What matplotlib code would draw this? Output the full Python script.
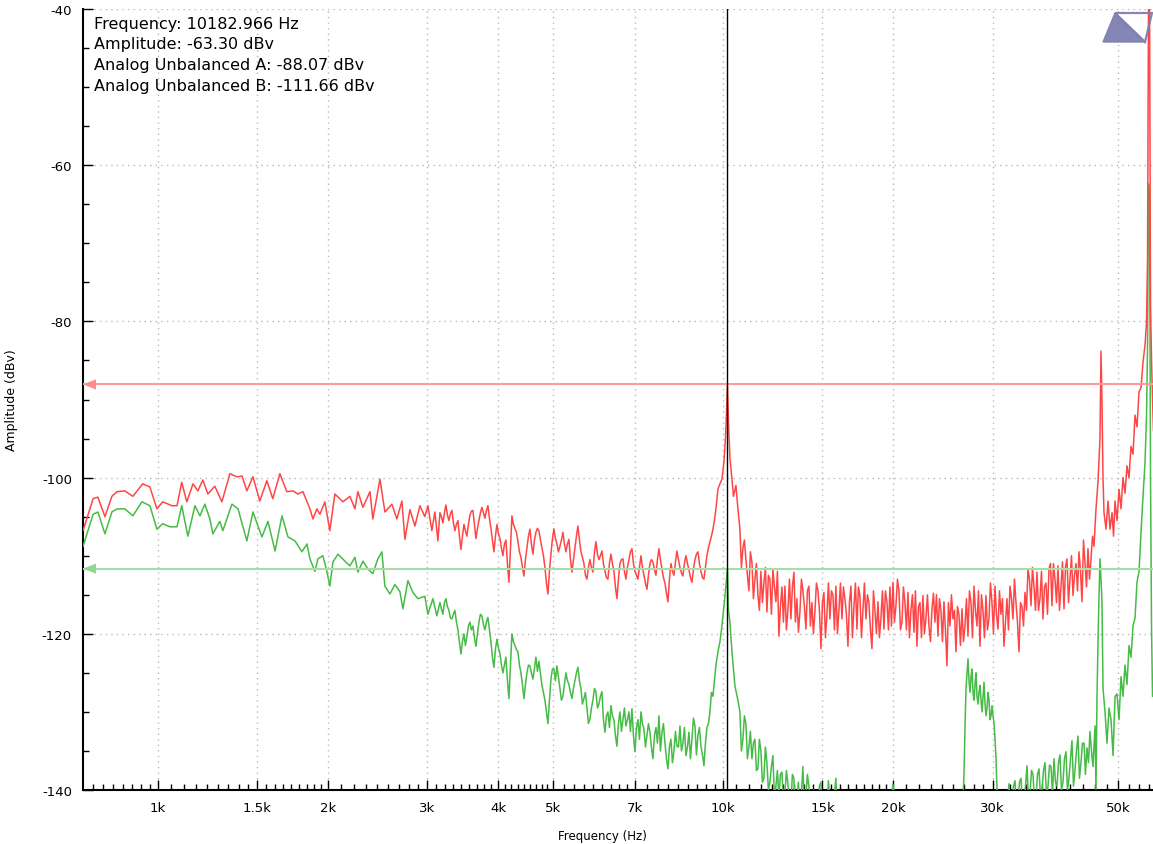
import numpy as np
import matplotlib
matplotlib.use("Agg")
import matplotlib.pyplot as plt
from matplotlib.patches import Polygon
from matplotlib.ticker import FixedLocator, NullFormatter
import matplotlib.transforms as mtransforms

W, H = 1153, 845
plt.rcParams['font.family'] = ['DejaVu Sans']
plt.rcParams['axes.unicode_minus'] = False

# ---------------- data (frequency in Hz, amplitude in dBv) ----------------
# Channel A (red), low-frequency part: explicit frequencies
red_low_f = [737, 768, 783, 806, 829, 847, 874, 903, 940, 968, 996, 1020, 1059, 1081,
             1102, 1125, 1154, 1177, 1201, 1226, 1261, 1298, 1341, 1380, 1409, 1437,
             1473, 1515, 1559, 1597, 1644, 1691, 1734, 1769, 1806, 1858, 1881, 1911,
             1935, 1975, 2015, 2057, 2125, 2187, 2232, 2259, 2306, 2373, 2401, 2472,
             2522, 2595, 2648, 2703, 2736, 2793, 2850, 2909, 2968, 3005, 3054, 3092, 3130]
red_low_db = [-106.8, -102.7, -102.5, -105.0, -102.4, -101.8, -101.7, -102.4, -100.8,
              -101.2, -104.0, -103.1, -103.6, -103.6, -100.6, -103.1, -100.8, -101.7,
              -100.3, -102.1, -101.1, -103.1, -99.5, -99.9, -99.8, -101.7, -99.9, -103.0,
              -100.4, -102.7, -99.5, -101.8, -101.7, -102.1, -101.8, -104.0, -105.3,
              -104.0, -104.7, -103.1, -106.8, -102.1, -103.1, -102.4, -104.0, -101.8,
              -103.8, -101.8, -105.3, -100.2, -104.4, -103.4, -105.3, -103.0, -107.9,
              -104.1, -106.2, -103.6, -105.0, -103.6, -106.8, -104.4, -108.1]

# Channel A, 3.16k - 9.72k: values at even log steps, and the values between them
red_mid_range = (3156, 9719)
red_mid_db = [-104.5, -105.8, -103.5, -105.5, -104.2, -106.8, -105.5, -109.2, -106.0,
              -107.5, -104.8, -104.2, -107.8, -105.5, -103.8, -105.2, -103.6, -106.5,
              -109.5, -106.0, -107.8, -110.0, -108.0, -113.4, -104.9, -106.5, -108.2,
              -110.2, -112.6, -109.0, -106.6, -109.8, -107.0, -106.8, -109.0, -111.5,
              -114.9, -109.8, -106.6, -108.5, -108.8, -107.0, -109.5, -107.9, -112.1,
              -109.0, -106.2, -109.5, -111.0, -113.0, -110.5, -112.1, -108.2, -110.5,
              -109.4, -112.0, -113.0, -109.8, -112.0, -115.5, -111.0, -110.4, -113.0,
              -110.5, -109.1, -112.0, -113.0, -110.0, -112.5, -114.3, -111.0, -110.8,
              -112.5, -109.1, -111.7, -113.5, -115.9, -111.0, -112.5, -109.4, -111.5,
              -112.6, -110.0, -111.8, -113.4, -110.5, -109.5, -112.0, -113.0, -110.0,
              -108.2, -106.6, -104.0]
red_mid_db_between = [-105.0, -104.5, -104.8, -104.6, -105.8, -106.0, -107.5, -107.5,
                      -106.8, -106.0, -104.3, -106.0, -106.5, -104.5, -104.5, -104.2,
                      -105.2, -108.0, -107.5, -107.2, -109.0, -108.5, -111.0, -109.0,
                      -106.0, -107.0, -109.5, -111.5, -110.5, -107.5, -108.5, -108.0,
                      -106.5, -108.0, -110.0, -113.5, -112.0, -107.8, -107.8, -109.5,
                      -108.0, -108.5, -108.5, -110.5, -110.5, -107.5, -108.0, -110.2,
                      -112.5, -111.5, -111.5, -109.5, -109.8, -110.0, -111.0, -112.8,
                      -111.0, -111.0, -114.0, -113.0, -110.5, -112.0, -111.5, -109.5,
                      -111.0, -112.5, -111.5, -111.5, -113.5, -112.5, -110.5, -111.8,
                      -110.5, -110.5, -112.8, -114.8, -113.0, -112.0, -110.8, -110.5,
                      -112.2, -111.0, -111.0, -112.8, -111.8, -109.8, -111.0, -112.8,
                      -111.5, -109.0, -107.5, -105.5]

# Channel A, peak around the 10.18 kHz tone
red_pk_f = [9798, 9879, 9959, 10041, 10102, 10143, 10183, 10227, 10289, 10374, 10437,
            10544, 10630]
red_pk_db = [-101.5, -100.8, -100.2, -98.0, -95.0, -92.0, -88.07, -93.0, -97.5, -100.2,
             -102.4, -101.0, -104.0]

# Channel A, 10.7k - 45.4k
red_hi_range = (10716, 45360)
red_hi_db = [-106.6, -109.1, -110.5, -114.5, -110.8, -113.0, -115.0, -112.0, -113.5,
             -117.2, -113.0, -111.7, -115.9, -120.3, -114.0, -113.9, -117.0, -118.1,
             -112.1, -115.5, -117.2, -114.5, -119.4, -113.9, -116.0, -117.2, -114.5,
             -121.9, -114.7, -117.5, -118.1, -115.0, -113.9, -117.0, -118.1, -115.5,
             -121.6, -113.9, -116.5, -119.4, -115.1, -117.0, -118.1, -116.0, -121.9,
             -117.0, -115.9, -118.0, -119.4, -115.9, -114.0, -113.4, -116.4, -114.5,
             -118.5, -116.0, -114.7, -117.0, -119.8, -121.6, -116.0, -115.1, -118.0,
             -119.0, -116.8, -118.5, -120.3, -117.0, -115.9, -124.1, -119.0, -118.1,
             -122.3, -117.5, -116.8, -119.0, -120.3, -116.0, -113.9, -119.0, -121.6,
             -117.0, -115.1, -118.1, -116.0, -113.9, -119.4, -117.5, -121.6, -115.5,
             -113.9, -118.1, -116.0, -122.3, -116.5, -114.7, -111.7, -116.4, -114.0,
             -112.1, -115.5, -118.1, -113.5, -111.7, -116.4, -113.0, -111.3, -114.0,
             -116.8, -110.4, -113.0, -115.1, -111.0, -109.5, -115.9, -111.0, -109.1,
             -110.5, -108.8]
red_hi_db_between = [-111.5, -108.0, -112.5, -109.5, -115.5, -111.0, -117.0, -116.0,
                     -111.5, -112.5, -117.5, -114.0, -112.0, -116.5, -118.5, -119.5,
                     -113.0, -114.0, -118.5, -119.8, -113.0, -116.5, -114.5, -119.0,
                     -120.0, -113.5, -117.0, -116.0, -120.5, -113.5, -114.5, -119.5,
                     -120.0, -113.5, -114.0, -117.5, -116.0, -120.5, -113.5, -114.0,
                     -120.5, -113.5, -115.0, -119.5, -114.5, -120.0, -120.5, -114.5,
                     -114.5, -119.5, -119.0, -118.5, -113.0, -119.5, -114.0, -119.5,
                     -120.5, -115.0, -114.5, -116.5, -120.5, -120.0, -115.0, -121.0,
                     -114.8, -115.0, -115.5, -121.0, -119.5, -116.0, -115.0, -117.0,
                     -116.5, -121.5, -121.0, -115.5, -114.5, -120.5, -117.0, -114.5,
                     -115.0, -120.5, -119.5, -113.5, -120.0, -117.5, -114.5, -115.5,
                     -118.5, -119.5, -115.5, -113.0, -118.5, -116.0, -119.0, -117.0,
                     -113.0, -111.5, -117.0, -117.0, -112.0, -114.0, -117.5, -111.0,
                     -111.0, -116.0, -117.0, -110.8, -111.5, -116.0, -110.0, -112.5,
                     -114.5, -112.0, -108.0, -114.0, -113.0, -107.5]

# Channel A, 46.7k spur and the rise to the ~56.8k tone
red_top_f = [45730, 46110, 46480, 46670, 46860, 47060, 47250, 47640, 48030, 48420, 48820,
             49120, 49420, 49820, 50230, 50640, 51050, 51470, 51890, 52320, 52740, 53180,
             53610, 54050, 54500, 54940, 55390, 55850, 56190, 56420, 56650, 56880, 57110,
             57350, 57580, 57800]
red_top_db = [-104.0, -100.5, -95.0, -83.8, -90.3, -100.2, -104.5, -106.6, -103.0, -106.6,
              -104.5, -107.5, -103.0, -105.5, -101.5, -104.0, -100.0, -102.0, -98.5,
              -100.0, -96.0, -97.0, -92.0, -93.5, -89.0, -88.5, -85.2, -83.0, -80.0,
              -72.0, -38.0, -38.0, -78.0, -85.0, -90.0, -94.0]

# Channel B (green), low-frequency part
grn_low_f = [737, 768, 783, 806, 829, 847, 874, 903, 937, 968, 996, 1020, 1050, 1081,
             1102, 1130, 1163, 1187, 1211, 1236, 1251, 1287, 1303, 1352, 1386, 1437,
             1473, 1528, 1566, 1612, 1658, 1699, 1748, 1798, 1836, 1858, 1896, 1920,
             1959, 1991, 2015, 2041, 2083, 2143, 2187, 2232, 2259, 2306, 2353, 2401,
             2451, 2491, 2522, 2574, 2627, 2681, 2714, 2770, 2827, 2885, 2968, 3005,
             3067, 3117]
grn_low_db = [-108.8, -104.7, -104.4, -107.2, -104.4, -104.0, -104.0, -104.9, -103.1,
              -103.6, -106.6, -105.9, -106.3, -106.3, -103.6, -107.5, -103.6, -104.9,
              -103.4, -105.3, -107.2, -105.6, -106.8, -103.4, -104.0, -108.1, -104.4,
              -107.6, -105.6, -109.4, -104.9, -107.6, -108.1, -109.5, -108.5, -110.4,
              -112.0, -110.4, -110.0, -112.0, -113.9, -110.8, -109.8, -110.7, -111.3,
              -110.2, -112.1, -110.7, -111.7, -112.3, -110.4, -109.5, -113.9, -114.9,
              -113.7, -114.6, -116.8, -113.2, -114.7, -115.5, -115.2, -117.5, -115.5,
              -117.7]

# Channel B, 3.16k - 9.72k
grn_mid_range = (3156, 9719)
grn_mid_db = [-116.0, -117.5, -115.5, -117.0, -118.1, -117.0, -119.5, -122.6, -120.0,
              -120.3, -118.5, -119.0, -121.6, -118.5, -117.7, -119.5, -117.9, -121.0,
              -124.3, -120.7, -122.5, -125.0, -123.0, -128.3, -120.0, -121.5, -122.3,
              -125.0, -128.3, -125.0, -124.1, -125.8, -123.0, -123.5, -126.6, -128.5,
              -131.5, -125.8, -124.5, -124.1, -127.0, -128.0, -125.0, -126.5, -128.3,
              -126.0, -124.3, -127.0, -128.3, -129.5, -130.9, -128.5, -127.4, -129.0,
              -127.4, -132.6, -130.0, -129.2, -131.0, -134.4, -130.0, -131.0, -131.8,
              -130.0, -129.6, -135.1, -131.0, -130.0, -132.2, -133.0, -132.6, -136.0,
              -132.0, -130.5, -132.6, -134.0, -137.3, -133.5, -135.0, -134.4, -131.8,
              -134.0, -135.6, -132.6, -133.5, -131.8, -133.0, -134.4, -136.9, -132.0,
              -130.0, -128.0, -124.0]
grn_mid_db_between = [-116.8, -116.0, -116.5, -118.0, -117.5, -118.5, -121.0, -121.0,
                      -121.5, -119.0, -119.5, -120.5, -120.0, -117.5, -118.8, -118.5,
                      -119.5, -123.0, -122.0, -121.8, -124.0, -124.0, -126.0, -124.0,
                      -121.0, -122.0, -124.0, -126.5, -126.5, -124.0, -125.0, -124.5,
                      -124.8, -125.0, -127.5, -130.0, -128.5, -124.5, -126.0, -125.5,
                      -128.5, -126.5, -126.0, -127.5, -127.0, -125.0, -126.0, -129.0,
                      -127.5, -131.5, -129.5, -127.0, -129.5, -128.0, -131.0, -130.5,
                      -132.0, -130.5, -133.0, -131.5, -132.5, -129.5, -131.0, -132.5,
                      -133.0, -132.0, -133.5, -131.5, -134.5, -131.5, -134.5, -133.0,
                      -134.0, -135.0, -131.5, -136.0, -134.5, -136.5, -132.5, -134.5,
                      -135.0, -132.0, -134.5, -136.0, -130.8, -135.5, -132.0, -135.5,
                      -134.0, -131.5, -127.5, -126.0]

# Channel B, peak around the 10.18 kHz tone
grn_pk_f = [9798, 9879, 9959, 10041, 10102, 10183, 10227, 10289, 10374, 10502, 10630]
grn_pk_db = [-122.3, -121.0, -119.0, -116.5, -114.6, -111.66, -117.0, -118.5, -122.3,
             -126.7, -128.5]

# Channel B, 10.7k - 16.0k
grn_hi1_range = (10716, 16040)
grn_hi1_db = [-130.0, -133.5, -131.5, -134.5, -136.0, -133.5, -137.3, -135.0, -138.5,
              -136.5, -139.0, -135.6, -139.5, -141.0, -137.7, -140.5, -139.2, -142.0,
              -138.5, -141.5, -143.0, -137.0, -141.0, -139.5, -143.0, -141.5, -144.0,
              -139.0, -142.0, -143.5, -141.0, -144.0, -138.5, -142.5]
grn_hi1_db_between = [-135.0, -130.5, -136.0, -132.5, -134.0, -137.5, -133.5, -139.0,
                      -134.5, -140.0, -137.0, -141.0, -137.5, -138.0, -141.5, -137.5,
                      -141.5, -138.0, -142.5, -139.0, -140.5, -142.5, -138.0, -142.5,
                      -140.0, -143.0, -139.5, -142.5, -140.5, -138.8, -143.0, -140.5,
                      -144.0]

# Channel B, 16.4k - 26.2k (mostly below the axis floor)
grn_hi2_range = (16440, 26170)
grn_hi2_db = [-144.0, -142.0, -145.0, -143.0, -141.5, -144.0, -142.0, -145.0, -139.3,
              -143.0, -145.0, -142.0, -144.0, -146.0, -143.0, -145.0, -142.0, -144.0,
              -146.0, -145.0]

# Channel B, 26.5k - 30.7k block
grn_blk_range = (26490, 30680)
grn_blk_db = [-145.0, -138.0, -127.0, -123.2, -127.5, -124.5, -128.5, -125.0, -129.0,
              -126.6, -130.0, -126.2, -130.5, -127.5, -131.0, -129.2, -131.5, -136.0,
              -145.0]
grn_blk_db_between = [-141.0, -132.0, -125.0, -126.0, -125.5, -127.5, -126.5, -128.0,
                      -127.5, -128.5, -128.0, -129.0, -129.5, -128.5, -130.5, -130.5,
                      -133.5, -140.0]

# Channel B, 30.9k - 45.2k
grn_hi3_range = (30930, 45170)
grn_hi3_db = [-143.0, -140.5, -144.0, -139.2, -142.0, -138.8, -141.5, -138.5, -141.0,
              -136.9, -140.5, -138.0, -141.0, -137.3, -140.0, -136.5, -139.5, -137.0,
              -136.0, -139.5, -135.5, -139.0, -135.1, -138.5, -133.7, -137.5, -133.1,
              -136.5, -134.0, -134.6, -132.5, -137.0]
grn_hi3_db_between = [-141.5, -143.0, -141.0, -143.0, -139.5, -142.0, -139.0, -142.0,
                      -139.5, -141.5, -137.5, -141.5, -138.0, -141.0, -137.5, -141.0,
                      -136.8, -140.5, -139.0, -136.5, -140.0, -136.0, -140.0, -136.0,
                      -139.5, -135.0, -138.5, -134.0, -138.0, -136.5, -135.0]

# Channel B, 46.7k spur and the rise to the ~56.8k tone
grn_top_f = [45550, 45730, 45920, 46110, 46300, 46480, 46670, 46860, 47060, 47440, 47830,
             48220, 48620, 49020, 49420, 49820, 50230, 50640, 51050, 51470, 51890, 52320,
             52740, 53180, 53610, 54050, 54500, 54940, 55390, 55850, 56190, 56420, 56650,
             56880, 57110, 57350, 57580]
grn_top_db = [-131.8, -139.9, -128.0, -121.0, -115.0, -110.4, -113.0, -115.9, -127.0,
              -130.0, -134.0, -129.5, -131.0, -135.6, -128.0, -127.7, -131.0, -125.5,
              -128.0, -124.0, -126.5, -121.5, -123.0, -119.0, -118.0, -113.4, -112.0,
              -107.0, -102.4, -98.0, -92.0, -83.1, -62.4, -64.0, -100.0, -119.4, -128.0]

cursor_freq = 10182.966
cursor_amp = -63.30
cursor_a = -88.07
cursor_b = -111.66

x_ticks = [1000, 1500, 2000, 3000, 4000, 5000, 7000, 10000, 15000, 20000, 30000, 50000]
x_labels = ['1k', '1.5k', '2k', '3k', '4k', '5k', '7k', '10k', '15k', '20k', '30k', '50k']
y_ticks = [-140, -120, -100, -80, -60, -40]

info_lines = [f"Frequency: {cursor_freq:.3f} Hz",
              f"Amplitude: {cursor_amp:.2f} dBv",
              f"Analog Unbalanced A: {cursor_a:.2f} dBv",
              f"Analog Unbalanced B: {cursor_b:.2f} dBv"]


def seg(rng, vals, between=None):
    vals = np.asarray(vals, float)
    if between is not None:
        merged = np.empty(len(vals) + len(between))
        merged[0::2] = vals
        merged[1::2] = np.asarray(between, float)
        vals = merged
    return np.geomspace(rng[0], rng[1], len(vals)), vals


def build(parts):
    fs, vs = [], []
    for f, v in parts:
        fs.append(np.asarray(f, float))
        vs.append(np.asarray(v, float))
    return np.concatenate(fs), np.concatenate(vs)


red_f, red_db = build([(red_low_f, red_low_db),
                       seg(red_mid_range, red_mid_db, red_mid_db_between),
                       (red_pk_f, red_pk_db),
                       seg(red_hi_range, red_hi_db, red_hi_db_between),
                       (red_top_f, red_top_db)])
grn_f, grn_db = build([(grn_low_f, grn_low_db),
                       seg(grn_mid_range, grn_mid_db, grn_mid_db_between),
                       (grn_pk_f, grn_pk_db),
                       seg(grn_hi1_range, grn_hi1_db, grn_hi1_db_between),
                       seg(grn_hi2_range, grn_hi2_db),
                       seg(grn_blk_range, grn_blk_db, grn_blk_db_between),
                       seg(grn_hi3_range, grn_hi3_db, grn_hi3_db_between),
                       (grn_top_f, grn_top_db)])

# ---------------- figure ----------------
fig = plt.figure(figsize=(W / 100, H / 100), dpi=100)
fig.patch.set_facecolor('white')
ax = fig.add_axes([83 / W, 1 - 791 / H, 1 - 83 / W, (791 - 10) / H])
ax.set_xscale('log')
ax.set_xlim(737, 57690)
ax.set_ylim(-140, -40)

RED = '#ff4646'
GREEN = '#46bb46'

ax.plot(grn_f, grn_db, color=GREEN, lw=1.1, zorder=3)
ax.plot(red_f, red_db, color=RED, lw=1.1, zorder=4)

# cursor lines
ax.axhline(cursor_a, color='#ff9a9a', lw=1.5, zorder=5)
ax.axhline(cursor_b, color='#a6dea6', lw=1.5, zorder=5)
ax.axvline(cursor_freq, color='black', lw=1.0, zorder=6)
blend = mtransforms.blended_transform_factory(ax.transAxes, ax.transData)
aw = 13 / 1070
ah = 0.65
for yv, c in [(cursor_a, '#ff8c8c'), (cursor_b, '#8fd68f')]:
    ax.add_patch(Polygon([(0, yv), (aw, yv + ah), (aw, yv - ah)], closed=True,
                         transform=blend, facecolor=c, edgecolor='none', zorder=6,
                         clip_on=False))

# ticks
majors_ext = [700] + x_ticks + [70000]
minors = []
for a, b in zip(majors_ext[:-1], majors_ext[1:]):
    for k in range(1, 9):
        minors.append(a + (b - a) * k / 9)
ax.xaxis.set_major_locator(FixedLocator(x_ticks))
ax.xaxis.set_minor_locator(FixedLocator(minors))
ax.set_xticklabels(x_labels)
ax.xaxis.set_minor_formatter(NullFormatter())
ax.set_yticks(y_ticks)
ax.yaxis.set_minor_locator(FixedLocator(np.arange(-140, -39, 5)))

ax.tick_params(axis='both', which='major', direction='in', length=7, width=1,
               labelsize=9.5, color='black')
ax.tick_params(axis='both', which='minor', direction='in', length=4, width=1,
               color='black')
ax.tick_params(axis='x', which='major', pad=8)
ax.tick_params(axis='y', which='major', pad=8)

for s in ['top', 'right']:
    ax.spines[s].set_visible(False)
for s in ['left', 'bottom']:
    ax.spines[s].set_linewidth(1.5)
    ax.spines[s].set_color('black')

ax.grid(True, which='major', color='#b8b8b8', lw=1.0, linestyle=(0, (1, 3)))
ax.set_axisbelow(True)

ax.set_xlabel('Frequency (Hz)', fontsize=8.5)
ax.xaxis.set_label_coords((602 - 83) / 1070, -(830 - 791) / 781)
ax.set_ylabel('Amplitude (dBv)', fontsize=9)
ax.yaxis.set_label_coords(-(83 - 18) / 1070, 0.5)

# info text
for i, line in enumerate(info_lines):
    fig.text(94 / W, 1 - (24 + 20.7 * i) / H, line, fontsize=11.5, va='center',
             ha='left', color='black')

# top-right marker glyph
mk = '#7f7fb2'
fig.patches.append(Polygon([(1115 / W, 1 - 14 / H), (1103 / W, 1 - 43 / H),
                            (1145 / W, 1 - 43 / H)], closed=True,
                           transform=fig.transFigure, facecolor=mk, edgecolor=mk,
                           lw=1, alpha=0.95))
fig.patches.append(Polygon([(1115 / W, 1 - 14 / H), (1152 / W, 1 - 14 / H),
                            (1145 / W, 1 - 43 / H)], closed=True,
                           transform=fig.transFigure, facecolor='none', edgecolor=mk,
                           lw=1.6, alpha=0.95))

fig.savefig('out.png', dpi=100)
